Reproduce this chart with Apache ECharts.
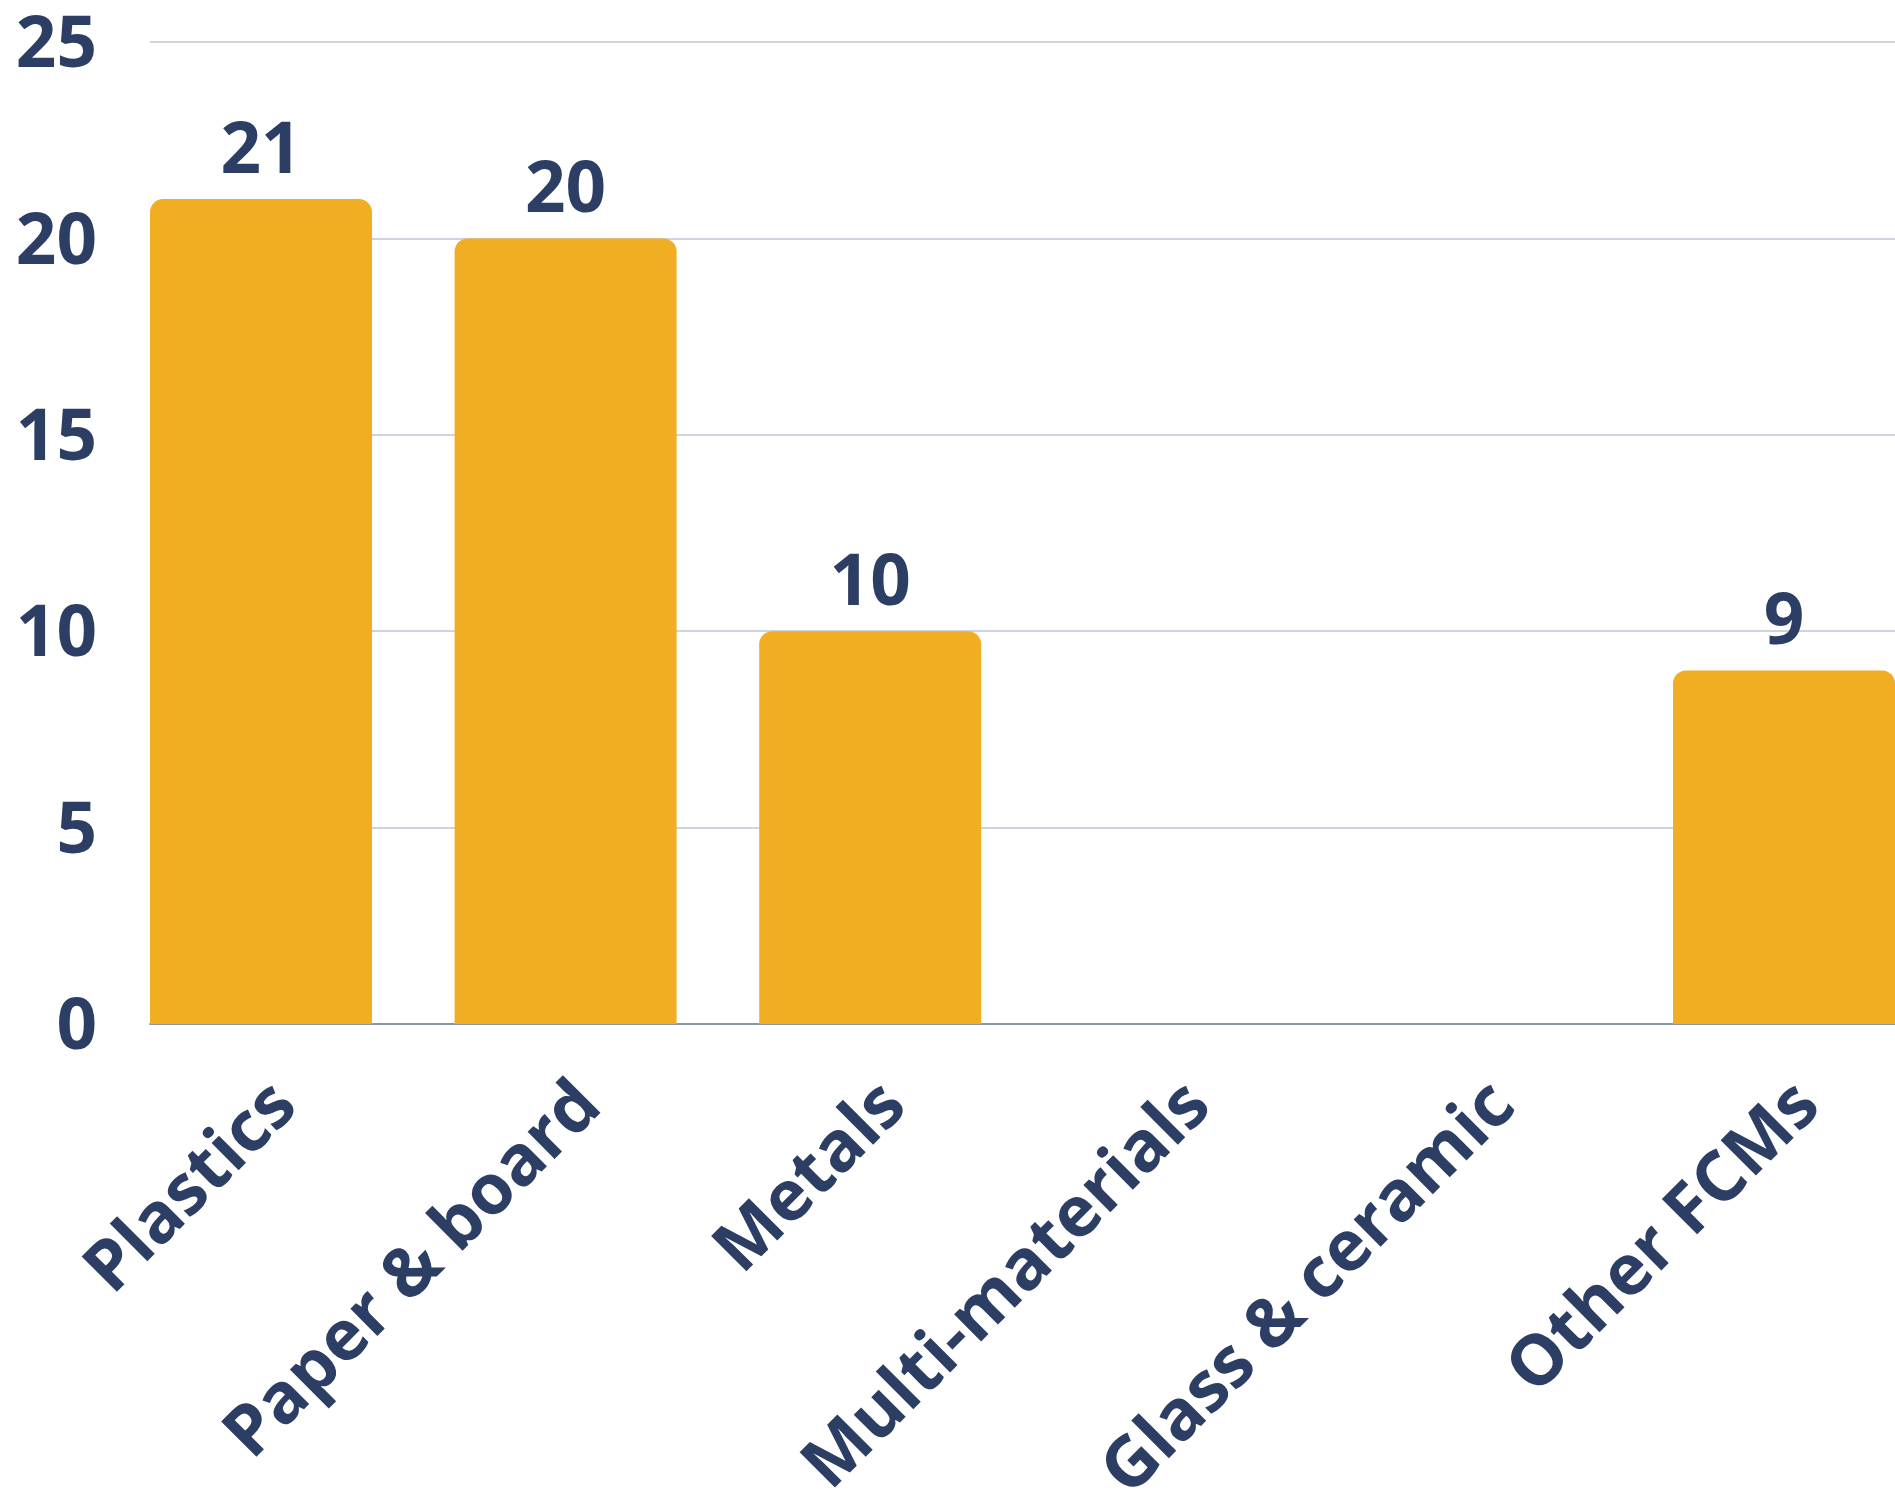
<!DOCTYPE html>
<html>
<head>
<meta charset="utf-8">
<script src="https://cdn.jsdelivr.net/npm/echarts@6/dist/echarts.min.js"></script>
<style>
html,body{margin:0;padding:0;background:#fff;}
#chart{width:1895px;height:1492px;}
</style>
</head>
<body>
<div id="chart"></div>
<script>
var categories = ['Plastics', 'Paper & board', 'Metals', 'Multi-materials', 'Glass & ceramic', 'Other FCMs'];
var values = [21, 20, 10, 0, 0, 9];
var yTicks = [0, 5, 10, 15, 20, 25];

var textColor = '#2c3e63';
var font = 'Open Sans';
var chart = echarts.init(document.getElementById('chart'));
chart.setOption({
  animation: false,
  backgroundColor: '#ffffff',
  grid: [
    { left: 108.7, right: -41.3, top: 42, bottom: 468, containLabel: false, outerBoundsMode: 'none' },
    { left: 150, right: 0, top: 42, bottom: 468, containLabel: false, outerBoundsMode: 'none' }
  ],
  xAxis: [
    {
      type: 'category', gridIndex: 0, data: categories,
      axisLine: { show: false }, axisTick: { show: false },
      axisLabel: { rotate: 45, margin: 46, verticalAlign: 'top', color: textColor, fontFamily: font, fontWeight: 'bold', fontSize: 70, interval: 0 }
    },
    {
      type: 'value', gridIndex: 1, min: 0, max: 1,
      axisLine: { show: true, lineStyle: { color: '#8d97ab', width: 2 } },
      axisTick: { show: false }, axisLabel: { show: false }, splitLine: { show: false }
    }
  ],
  yAxis: [
    {
      type: 'value', gridIndex: 0, min: yTicks[0], max: yTicks[yTicks.length - 1], interval: 5,
      axisLine: { show: false }, axisTick: { show: false }, axisLabel: { show: false }, splitLine: { show: false }
    },
    {
      type: 'value', gridIndex: 1, min: yTicks[0], max: yTicks[yTicks.length - 1], interval: 5,
      axisLine: { show: false }, axisTick: { show: false },
      axisLabel: {
        margin: 53, color: textColor, fontFamily: font, fontWeight: 'bold', fontSize: 71,
        formatter: function (v) { return '{t|' + v + '}'; },
        rich: { t: { color: textColor, fontFamily: font, fontWeight: 'bold', fontSize: 71, padding: [10, 0, 0, 0] } }
      },
      splitLine: { show: true, lineStyle: { color: '#cfd3de', width: 2 } }
    }
  ],
  series: [
    {
      type: 'bar', xAxisIndex: 0, yAxisIndex: 0, data: values,
      barWidth: 222, z: 3,
      itemStyle: { color: '#f2ae22', borderRadius: [13, 13, 0, 0] },
      label: {
        show: true, position: 'top', distance: 11, color: textColor,
        fontFamily: font, fontWeight: 'bold', fontSize: 71,
        formatter: function (p) { return p.value > 0 ? p.value : ''; }
      }
    }
  ]
});
</script>
</body>
</html>
